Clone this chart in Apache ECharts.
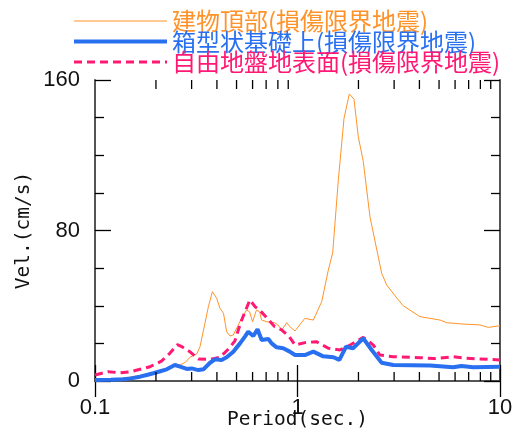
<!DOCTYPE html>
<html>
<head>
<meta charset="utf-8">
<script src="https://cdn.jsdelivr.net/npm/echarts@6/dist/echarts.min.js"></script>
<style>
html,body{margin:0;padding:0;background:#fff;}
#chart{width:517px;height:438px;}
</style>
</head>
<body>
<div id="chart"></div>
<script>
// ---- data ----
const seriesNames = ['建物頂部(損傷限界地震)', '箱型状基礎上(損傷限界地震)', '自由地盤地表面(損傷限界地震)'];

const topPeriod = [0.1,0.12,0.14,0.16,0.18,0.2,0.225,0.25,0.263,0.28,0.294,0.318,0.33,0.349,0.363,0.38,0.399,0.414,0.431,0.447,0.464,0.482,0.51,0.53,0.56,0.58,0.6,0.627,0.65,0.665,0.705,0.772,0.8,0.836,0.885,0.916,0.972,1.087,1.197,1.317,1.42,1.492,1.591,1.697,1.803,1.901,1.996,2.113,2.28,2.604,2.757,3.146,3.328,4.025,5.056,5.456,6.5,7.963,8.75,10];
const topVel = [0.5,1,1.6,2.6,3.6,4.8,6.5,9,8.5,10,12.6,14.4,18.2,30.7,39.5,47.5,44,38.6,36,26.2,23.9,24.5,29.8,33.3,37.7,36.8,31.5,37.7,36.8,32.4,31.5,31,29.8,27.1,31,28.9,26.6,33.3,32.4,42.2,59,68.2,106.9,139.6,152.6,149.8,129.9,116.6,87.3,57.3,51,43.1,40,34.2,32.4,31,30.3,29.8,28.5,29.4];

const basePeriod = [0.1,0.12,0.138,0.15,0.167,0.18,0.194,0.21,0.226,0.248,0.263,0.284,0.3,0.324,0.343,0.37,0.391,0.422,0.447,0.482,0.52,0.55,0.571,0.605,0.635,0.665,0.718,0.745,0.789,0.85,0.916,0.972,1.087,1.197,1.34,1.506,1.61,1.736,1.88,2.113,2.325,2.604,2.97,4.51,5.87,6.45,7.37,10];
const baseVel = [0.5,0.7,0.9,1.4,2.3,3.2,4.1,5.2,6.2,8.5,7.6,6.4,6.7,5.8,6.2,9.7,11.5,11.2,12.6,15.6,20,23.6,26.2,23.9,27.5,21.8,22.3,20,17.9,17.4,15.6,13.8,13.8,15.6,13.1,12.6,11.2,18.2,17.4,22.7,16.5,9.7,8.5,8.3,7.3,8.0,7.3,7.6];

const groundPeriod = [0.1,0.116,0.133,0.149,0.17,0.187,0.213,0.234,0.255,0.268,0.294,0.324,0.37,0.414,0.455,0.491,0.51,0.53,0.582,0.617,0.65,0.71,0.772,0.836,0.91,0.972,1.09,1.24,1.42,1.62,1.82,2.113,2.37,2.55,2.97,4.03,4.69,5.87,6.84,10];
const groundVel = [3.2,4.9,4.4,4.9,6.4,7.6,10.6,14.7,19.3,18.3,15.6,11.7,11.5,12.6,16.9,21.3,27.1,32.4,43.1,39.5,37.7,33.3,28.9,27.1,23.6,19.1,20.4,20.9,17.4,16.5,19.1,23.2,19.1,13.8,12.9,12.4,11.9,12.9,12.1,11.2];

const xMinorTicks = [0.2,0.3,0.4,0.5,0.6,0.7,0.8,0.9,2,3,4,5,6,7,8,9];
const yMin = 0, yMax = 160, yInterval = 80;
const xMin = 0.1, xMax = 10;

// ---- chart ----
const pair = (ps, vs) => ps.map((p, i) => [p, vs[i]]);
const colors = ['#FF9329', '#2970F0', '#FF1874'];
const monoFont = 'DejaVu Sans Mono';
const numFont = 'Liberation Sans';
const cjkFont = 'Noto Sans CJK JP';
const frameColor = '#555';
const hiddenSymbol = {color: 'rgba(0,0,0,0)', opacity: 0, borderWidth: 0};

const chart = echarts.init(document.getElementById('chart'), null, {renderer: 'canvas'});

const xAxisBase = {
  type: 'log', logBase: 10, min: xMin, max: xMax,
  axisLine: {show: true, lineStyle: {color: frameColor, width: 2}},
  axisTick: {show: true, inside: true, length: 16, lineStyle: {color: '#000', width: 1.3}},
  splitLine: {show: false},
  minorTick: {show: false}
};
const yAxisBase = {
  type: 'value', min: yMin, max: yMax, interval: yInterval,
  axisLine: {show: true, onZero: false, lineStyle: {color: frameColor, width: 2}},
  axisTick: {show: true, inside: true, length: 16, lineStyle: {color: '#000', width: 1.3}},
  minorTick: {show: true, splitNumber: 4, length: 9, lineStyle: {color: '#000', width: 1.3}},
  splitLine: {show: false}
};

chart.setOption({
  animation: false,
  backgroundColor: '#fff',
  grid: {left: 95, right: 17, top: 80, bottom: 57, containLabel: false, outerBoundsMode: 'none'},
  legend: {
    orient: 'vertical', left: 67, top: 4,
    itemWidth: 93, itemHeight: 21, itemGap: -3.5,
    textStyle: {fontFamily: cjkFont, fontSize: 24, lineHeight: 21.5},
    data: [
      {name: seriesNames[0], textStyle: {color: colors[0]}, lineStyle: {width: 1}, itemStyle: hiddenSymbol},
      {name: seriesNames[1], textStyle: {color: colors[1]}, lineStyle: {width: 4}, itemStyle: hiddenSymbol},
      {name: seriesNames[2], textStyle: {color: colors[2]}, lineStyle: {width: 3}, itemStyle: hiddenSymbol}
    ],
    selectedMode: false
  },
  xAxis: [
    Object.assign({}, xAxisBase, {
      position: 'bottom',
      name: 'Period(sec.)', nameLocation: 'middle', nameGap: 29, nameMoveOverlap: false,
      nameTextStyle: {fontFamily: monoFont, fontSize: 19.5, color: '#111'},
      axisLabel: {show: true, margin: 16, fontFamily: numFont, fontSize: 22, color: '#111',
        formatter: v => String(v)}
    }),
    Object.assign({}, xAxisBase, {position: 'top', axisLabel: {show: false}})
  ],
  yAxis: [
    Object.assign({}, yAxisBase, {
      position: 'left',
      name: 'Vel.(cm/s)', nameLocation: 'middle', nameGap: 61, nameMoveOverlap: false,
      nameTextStyle: {fontFamily: monoFont, fontSize: 19.5, color: '#111'},
      axisLabel: {show: true, margin: 15, fontFamily: numFont, fontSize: 22, color: '#111'}
    }),
    Object.assign({}, yAxisBase, {position: 'right', axisLabel: {show: false}})
  ],
  series: [
    {
      name: seriesNames[0], type: 'line', symbol: 'none', smooth: false,
      data: pair(topPeriod, topVel), z: 3,
      lineStyle: {color: colors[0], width: 1}, itemStyle: {color: colors[0]}
    },
    {
      name: seriesNames[2], type: 'line', symbol: 'none', smooth: false,
      data: pair(groundPeriod, groundVel), z: 4,
      lineStyle: {color: colors[2], width: 3, type: [8, 5]}, itemStyle: {color: colors[2]}
    },
    {
      name: seriesNames[1], type: 'line', symbol: 'none', smooth: false,
      data: pair(basePeriod, baseVel), z: 5,
      lineStyle: {color: colors[1], width: 4}, itemStyle: {color: colors[1]}
    },
    {
      name: 'xMinorTicks', type: 'custom', silent: true, z: 10, clip: false,
      data: xMinorTicks.map(v => [v]),
      renderItem: function (params, api) {
        const p = api.value(0);
        const b = api.coord([p, yMin]);
        const t = api.coord([p, yMax]);
        const style = {stroke: '#000', lineWidth: 1.3};
        return {
          type: 'group',
          children: [
            {type: 'line', shape: {x1: b[0], y1: b[1], x2: b[0], y2: b[1] - 9}, style: style},
            {type: 'line', shape: {x1: t[0], y1: t[1], x2: t[0], y2: t[1] + 9}, style: style}
          ]
        };
      }
    }
  ]
});
</script>
</body>
</html>
